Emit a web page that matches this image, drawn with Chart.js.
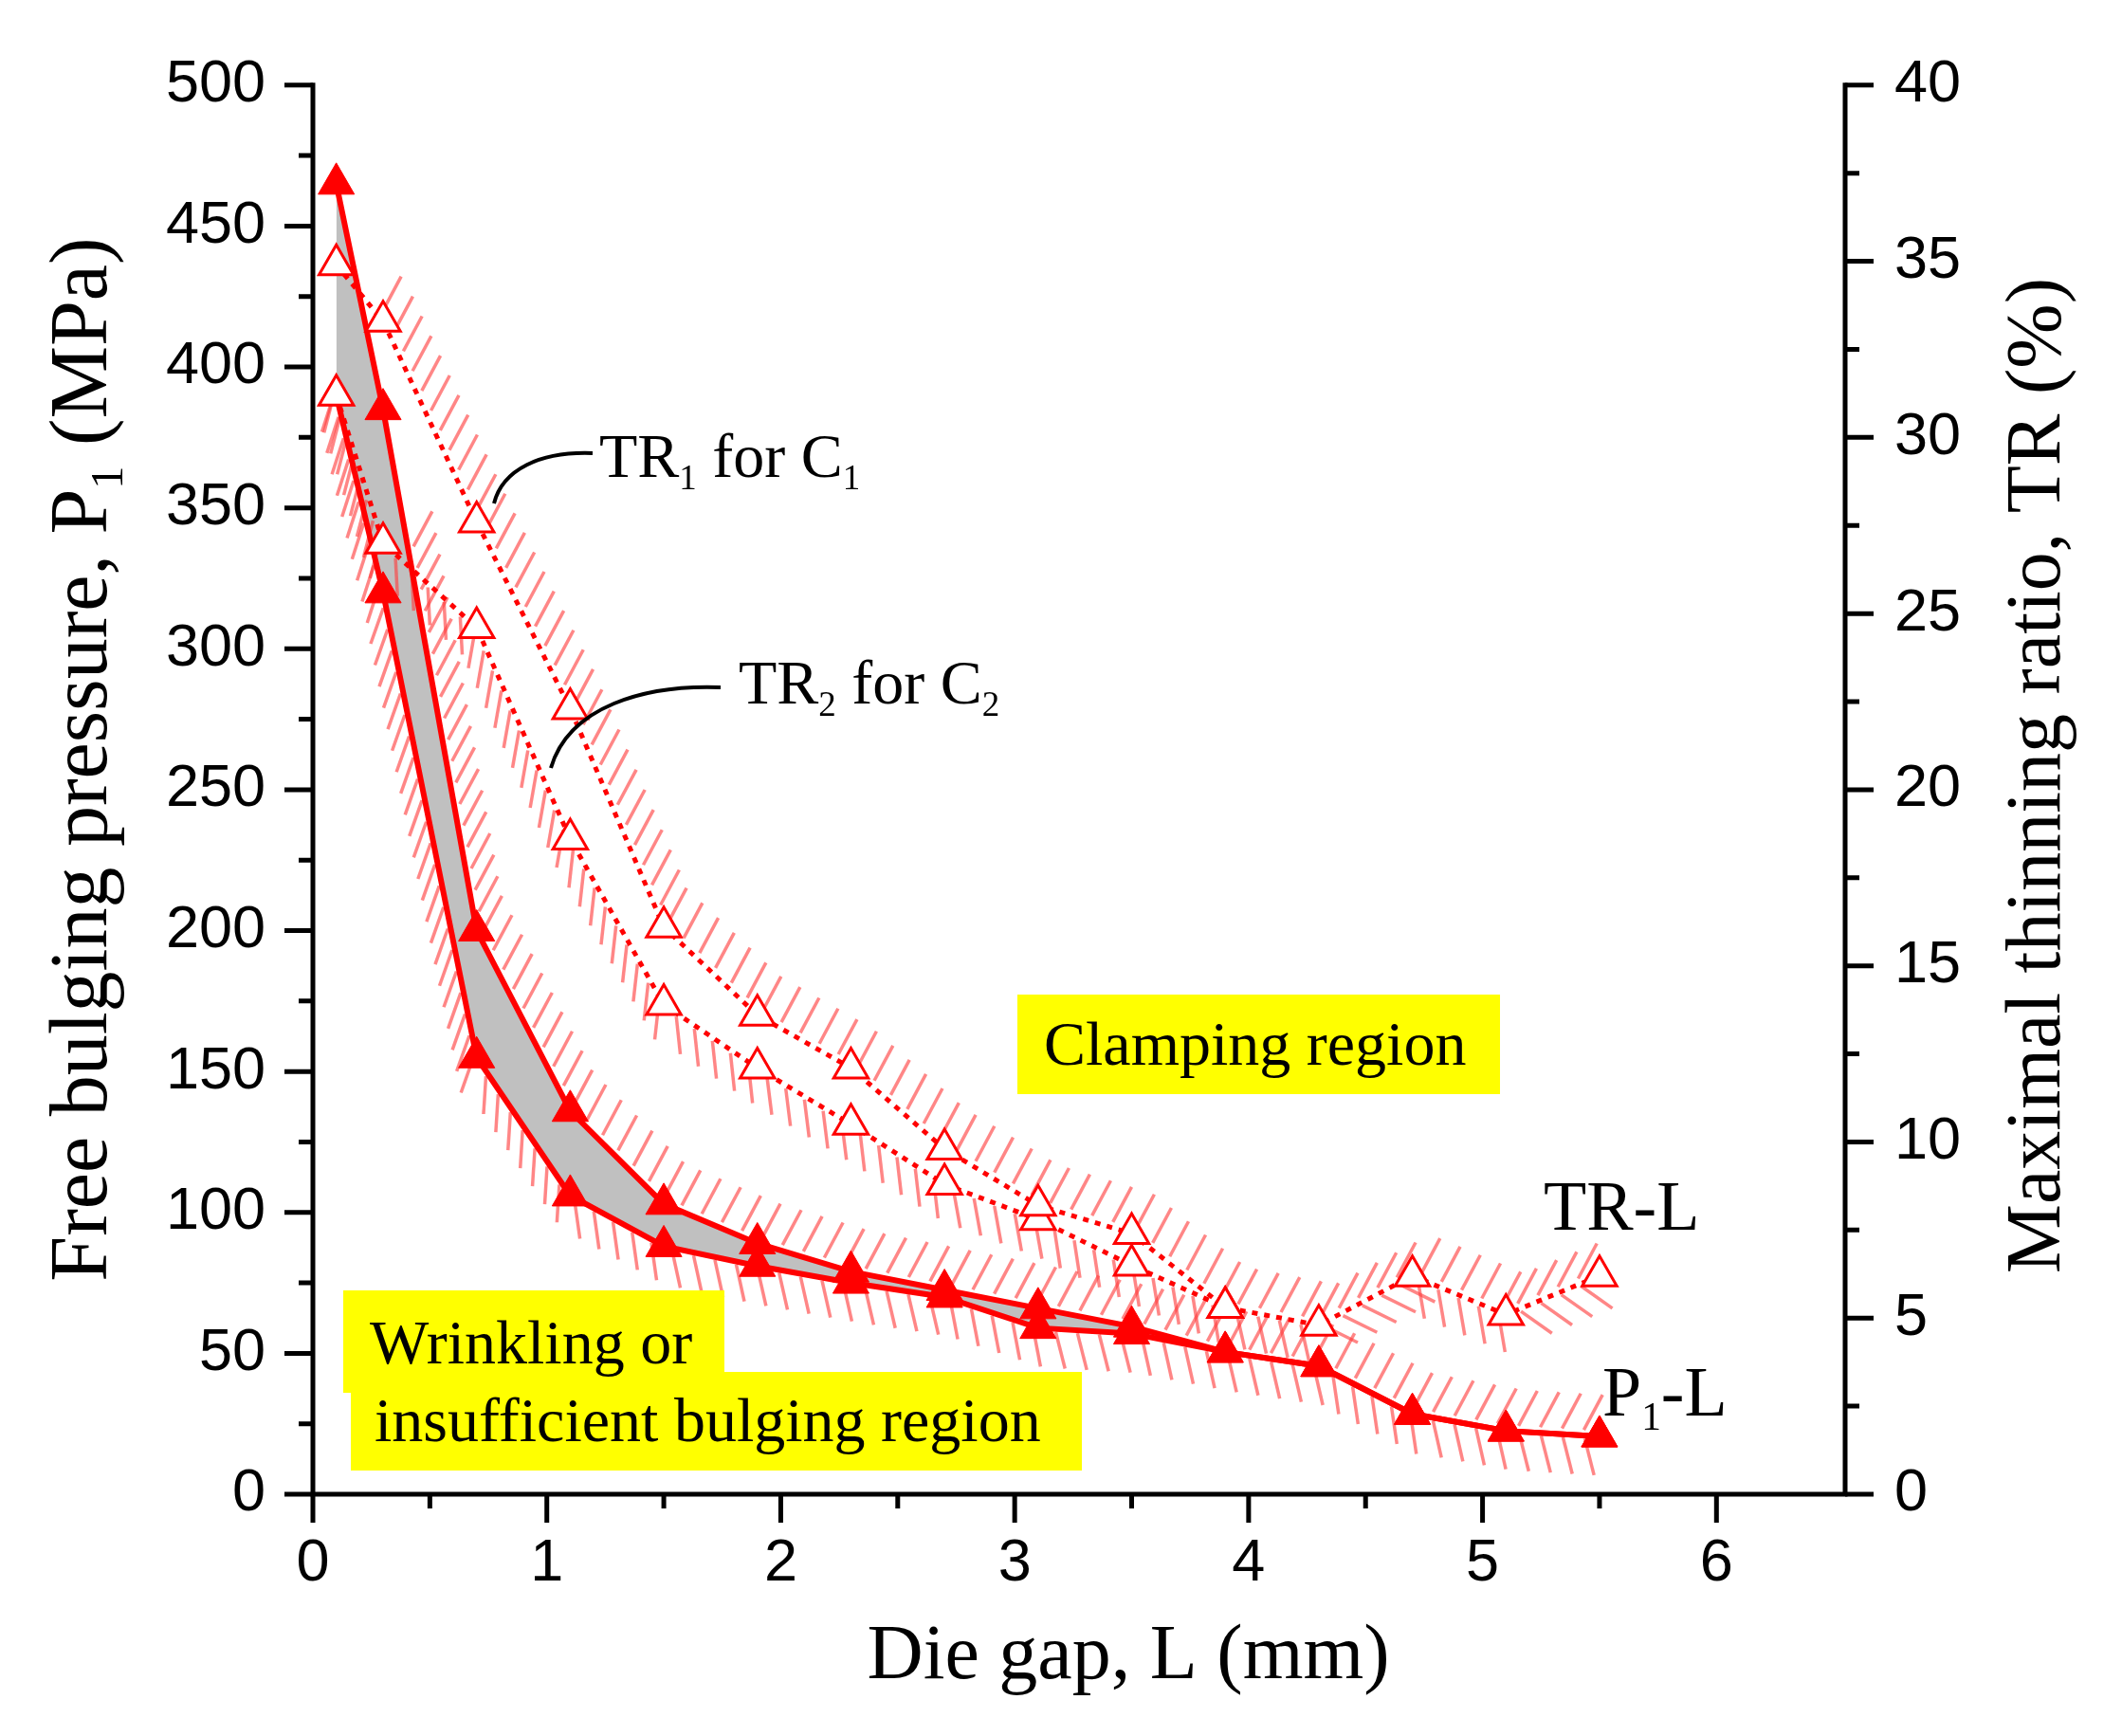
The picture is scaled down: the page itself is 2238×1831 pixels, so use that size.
<!DOCTYPE html>
<html>
<head>
<meta charset="utf-8">
<script src="https://cdn.jsdelivr.net/npm/chart.js@4.4.1/dist/chart.umd.min.js"></script>
<style>
  html, body { margin: 0; padding: 0; background: #fff; }
  canvas { display: block; }
</style>
</head>
<body>
<canvas id="chart" width="2238" height="1831"></canvas>
<script>
// die gap L (mm)
const dieGap = [0.1, 0.3, 0.7, 1.1, 1.5, 1.9, 2.3, 2.7, 3.1, 3.5, 3.9, 4.3, 4.7, 5.1, 5.5];
// free bulging pressure P1 (MPa), upper and lower bound of the grey band
const p1Upper = [465, 385, 200, 136, 103, 89, 79, 72.5, 66, 59.5, 50.5, 45.5, 28.5, 22.5, 20.5];
const p1Lower = [390, 320, 155, 106, 88, 81, 75, 70, 59, 57, 50.5, 45.5, 28.5, 22.5, 20.5];
// maximal thinning ratio TR (%)
const tr1 = [34.9, 33.3, 27.6, 22.3, 16.1, 13.6, 12.1, 9.8, 8.2, 7.4, 5.3, 4.8, 6.2, 5.1, 6.2];
const tr2 = [31.2, 27.0, 24.6, 18.6, 13.9, 12.1, 10.5, 8.8, 7.8, 6.5, 5.3];

const xRange = [0, 6.55];
const pRange = [0, 500];
const trRange = [0, 40];

const RED = '#ff0000';
const SERIF = '"Liberation Serif", "Times New Roman", serif';

const pts = (xs, ys) => ys.map((y, i) => ({ x: xs[i], y: y }));

// which lines get the hatched border, and on which side
const hatchBands = [
  { ds: 0, side: 'up', from: 0.25, off: 6, len: 42 },
  { ds: 1, side: 'down', from: 0.1, off: 3, len: 40 },
  { ds: 0, side: 'down', from: 3.9, off: 3, len: 40 },
  { ds: 2, side: 'up', from: 0.4, off: 6, len: 42 },
  { ds: 3, side: 'down', from: 0.1, off: 3, len: 40 }
];

const hatchPlugin = {
  id: 'hatch',
  beforeDatasetsDraw(chart) {
    const ctx = chart.ctx;
    const xs = chart.scales.x;
    const gap = 23;
    ctx.save();
    ctx.strokeStyle = 'rgba(255,60,60,0.62)';
    ctx.lineWidth = 3.5;
    hatchBands.forEach(b => {
      const el = chart.getDatasetMeta(b.ds).data;
      const xStart = xs.getPixelForValue(b.from);
      let carry = 0;
      for (let i = 0; i < el.length - 1; i++) {
        const a = el[i], c = el[i + 1];
        const dx = c.x - a.x, dy = c.y - a.y;
        const len = Math.hypot(dx, dy);
        if (!len) continue;
        const tx = dx / len, ty = dy / len;
        let nx, ny, ux, uy;
        if (b.side === 'up') {
          nx = ty; ny = -tx;
          ux = 0.47; uy = -0.88;
        } else {
          nx = -ty; ny = tx;
          const ang = (15 + 45 * Math.abs(ty)) * Math.PI / 180;
          ux = nx * Math.cos(ang) + tx * Math.sin(ang);
          uy = ny * Math.cos(ang) + ty * Math.sin(ang);
        }
        let s = carry;
        for (; s < len; s += gap) {
          const px = a.x + tx * s, py = a.y + ty * s;
          if (px < xStart) continue;
          const sx = px + nx * b.off, sy = py + ny * b.off;
          ctx.beginPath();
          ctx.moveTo(sx, sy);
          ctx.lineTo(sx + ux * b.len, sy + uy * b.len);
          ctx.stroke();
        }
        carry = s - len;
      }
    });
    ctx.restore();
  }
};

function drawRich(ctx, parts, x, y, size, align) {
  const subSize = size * 0.56;
  let w = 0;
  parts.forEach(p => {
    ctx.font = (p[1] ? subSize : size) + 'px ' + SERIF;
    w += ctx.measureText(p[0]).width;
  });
  let cx = align === 'center' ? x - w / 2 : x;
  ctx.textAlign = 'left';
  ctx.textBaseline = 'alphabetic';
  parts.forEach(p => {
    ctx.font = (p[1] ? subSize : size) + 'px ' + SERIF;
    ctx.fillText(p[0], cx, p[1] ? y + size * 0.2 : y);
    cx += ctx.measureText(p[0]).width;
  });
}

const framePlugin = {
  id: 'frame',
  afterDraw(chart) {
    const ctx = chart.ctx;
    const { left, right, top, bottom } = chart.chartArea;
    const { x, y, y2 } = chart.scales;
    ctx.save();
    ctx.strokeStyle = '#000';
    ctx.lineWidth = 5;
    ctx.lineCap = 'square';
    ctx.beginPath();
    ctx.moveTo(left, top); ctx.lineTo(left, bottom); ctx.lineTo(right, bottom);
    ctx.moveTo(right, top); ctx.lineTo(right, bottom);
    ctx.stroke();
    ctx.lineCap = 'butt';
    ctx.beginPath();
    for (let v = xRange[0]; v <= 6; v += 0.5) {
      const px = x.getPixelForValue(v);
      const l = v % 1 === 0 ? 30 : 15;
      ctx.moveTo(px, bottom); ctx.lineTo(px, bottom + l);
    }
    for (let v = pRange[0]; v <= pRange[1]; v += 25) {
      const py = y.getPixelForValue(v);
      const l = v % 50 === 0 ? 30 : 15;
      ctx.moveTo(left, py); ctx.lineTo(left - l, py);
    }
    for (let v = trRange[0]; v <= trRange[1]; v += 2.5) {
      const py = y2.getPixelForValue(v);
      const l = v % 5 === 0 ? 30 : 15;
      ctx.moveTo(right, py); ctx.lineTo(right + l, py);
    }
    ctx.stroke();

    // yellow region boxes
    ctx.fillStyle = '#ffff00';
    ctx.fillRect(1073, 1049, 509, 105);
    ctx.fillRect(362, 1361, 402, 108);
    ctx.fillRect(370, 1447, 771, 104);

    // leader lines
    ctx.strokeStyle = '#000';
    ctx.lineWidth = 4;
    ctx.beginPath();
    ctx.moveTo(625, 478); ctx.bezierCurveTo(570, 476, 530, 495, 521, 531);
    ctx.moveTo(760, 725); ctx.bezierCurveTo(680, 722, 600, 745, 581, 810);
    ctx.stroke();

    ctx.fillStyle = '#000';
    drawRich(ctx, [['TR'], ['1', true], [' for C'], ['1', true]], 632, 503, 66, 'left');
    drawRich(ctx, [['TR'], ['2', true], [' for C'], ['2', true]], 779, 742, 66, 'left');
    drawRich(ctx, [['Clamping region']], 1101, 1123, 66, 'left');
    drawRich(ctx, [['Wrinkling or']], 390, 1438, 66, 'left');
    drawRich(ctx, [['insufficient bulging region']], 395, 1520, 66, 'left');
    drawRich(ctx, [['TR-L']], 1628, 1297, 74, 'left');
    drawRich(ctx, [['P'], ['1', true], ['-L']], 1690, 1493, 74, 'left');

    // axis titles
    drawRich(ctx, [['Die gap, L (mm)']], 1190, 1770, 82, 'center');
    ctx.save();
    ctx.translate(112, 801);
    ctx.rotate(-Math.PI / 2);
    drawRich(ctx, [['Free bulging pressure, P'], ['1', true], [' (MPa)']], 0, 0, 86, 'center');
    ctx.restore();
    ctx.save();
    ctx.translate(2172, 818);
    ctx.rotate(-Math.PI / 2);
    drawRich(ctx, [['Maximal thinning ratio, TR (%)']], 0, 0, 82, 'center');
    ctx.restore();
    ctx.restore();
  }
};

Chart.defaults.font.family = '"Liberation Sans", Arial, sans-serif';
Chart.defaults.font.size = 63;
Chart.defaults.color = '#000';

const trStyle = {
  yAxisID: 'y2',
  borderColor: RED,
  borderWidth: 5,
  borderDash: [6, 7],
  pointStyle: 'triangle',
  pointRadius: 21,
  pointBackgroundColor: '#fff',
  pointBorderColor: RED,
  pointBorderWidth: 3,
  fill: false
};
const pStyle = {
  yAxisID: 'y',
  borderColor: RED,
  borderWidth: 6,
  pointStyle: 'triangle',
  pointRadius: 22,
  pointBackgroundColor: RED,
  pointBorderColor: RED,
  pointBorderWidth: 1
};

new Chart(document.getElementById('chart'), {
  type: 'line',
  data: {
    datasets: [
      Object.assign({ label: 'TR1 for C1', data: pts(dieGap, tr1) }, trStyle),
      Object.assign({ label: 'TR2 for C2', data: pts(dieGap, tr2) }, trStyle),
      Object.assign({ label: 'P1-L upper', data: pts(dieGap, p1Upper), fill: '+1', backgroundColor: '#c0c0c0' }, pStyle),
      Object.assign({ label: 'P1-L lower', data: pts(dieGap, p1Lower), fill: false }, pStyle)
    ]
  },
  options: {
    responsive: false,
    animation: false,
    devicePixelRatio: 1,
    events: [],
    layout: { padding: { top: 87, left: 0, right: 0, bottom: 0 } },
    plugins: {
      legend: { display: false },
      tooltip: { enabled: false },
      filler: { drawTime: 'beforeDatasetsDraw' }
    },
    scales: {
      x: {
        type: 'linear',
        min: xRange[0],
        max: xRange[1],
        grid: { display: false, drawTicks: false },
        border: { display: false },
        ticks: { stepSize: 1, includeBounds: false, padding: 36, maxRotation: 0 },
        afterFit: s => { s.height = 255; }
      },
      y: {
        position: 'left',
        min: pRange[0],
        max: pRange[1],
        grid: { display: false, drawTicks: false },
        border: { display: false },
        ticks: { stepSize: 50, padding: 50 },
        afterFit: s => { s.width = 330; }
      },
      y2: {
        position: 'right',
        min: trRange[0],
        max: trRange[1],
        grid: { display: false, drawTicks: false },
        border: { display: false },
        ticks: { stepSize: 5, padding: 52 },
        afterFit: s => { s.width = 292; }
      }
    }
  },
  plugins: [hatchPlugin, framePlugin]
});
</script>
</body>
</html>
